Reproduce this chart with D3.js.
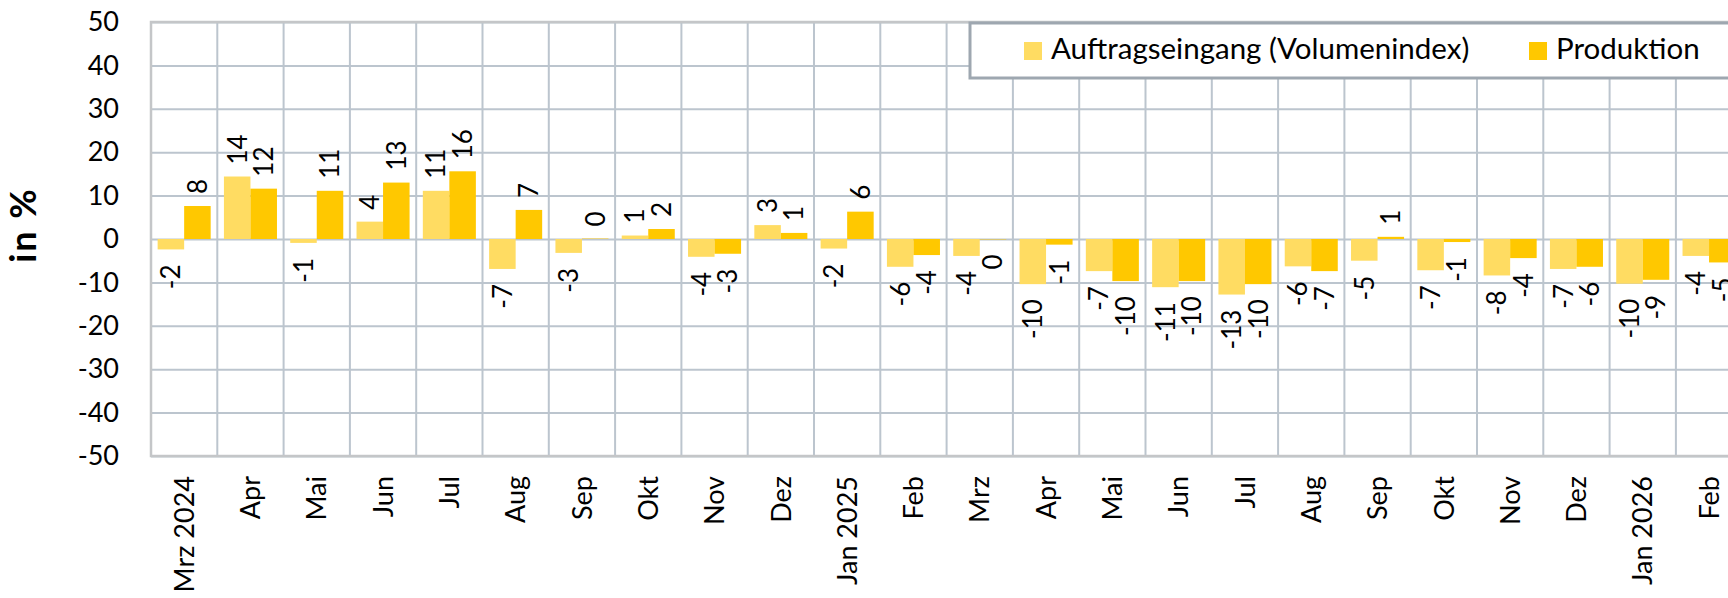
<!DOCTYPE html>
<html>
<head>
<meta charset="utf-8">
<script src="https://cdn.jsdelivr.net/npm/d3@7"></script>
<style>
  body { margin: 0; background: #fff; }
  svg { display: block; font-family: Lato, "Open Sans", sans-serif; }
</style>
</head>
<body>
<svg></svg>
<script>
// Monatswerte in %, Veränderung gegenüber Vorjahresmonat
const months = ["Mrz 2024", "Apr", "Mai", "Jun", "Jul", "Aug", "Sep", "Okt", "Nov", "Dez",
                "Jan 2025", "Feb", "Mrz", "Apr", "Mai", "Jun", "Jul", "Aug", "Sep", "Okt",
                "Nov", "Dez", "Jan 2026", "Feb"];
const auftrag = [-2.4, 14.4, -0.9, 4.0, 11.1, -6.9, -3.2, 0.8, -4.1, 3.2,
                 -2.2, -6.4, -3.9, -10.4, -7.4, -11.1, -12.8, -6.3, -5.0, -7.2,
                 -8.4, -6.9, -10.3, -3.9];
const produktion = [7.6, 11.6, 11.1, 13.0, 15.6, 6.7, 0.1, 2.3, -3.4, 1.4,
                    6.3, -3.7, -0.1, -1.3, -9.7, -9.7, -10.4, -7.4, 0.5, -0.7,
                    -4.4, -6.4, -9.4, -5.4];
const yTicks = [50, 40, 30, 20, 10, 0, -10, -20, -30, -40, -50];
const seriesNames = ["Auftragseingang (Volumenindex)", "Produktion"];
const seriesColors = ["#ffdc62", "#ffc800"];

const width = 1728;
const height = 598;
const plotLeft = 151, plotTop = 22, plotBottom = 456;
const step = 66.3;
const plotRight = plotLeft + step * months.length;

const svg = d3.select("svg")
              .attr("width", width)
              .attr("height", height);

const x = d3.scaleBand()
            .domain(d3.range(months.length))
            .range([plotLeft, plotRight])
            .paddingInner(0.2)
            .paddingOuter(0.1);

const xSub = d3.scaleBand()
               .domain([0, 1])
               .range([0, x.bandwidth()]);

const y = d3.scaleLinear()
            .domain([-50, 50])
            .range([plotBottom, plotTop]);

const gridColor = "#bcc5ce";

// horizontal grid + y labels
const yAxis = d3.axisLeft(y)
                .tickValues(yTicks)
                .tickSize(-(plotRight - plotLeft))
                .tickPadding(32)
                .tickFormat(d => String(d));

svg.append("g")
   .attr("transform", `translate(${plotLeft},0)`)
   .call(yAxis)
   .call(g => g.select(".domain").remove())
   .call(g => g.selectAll("line").attr("stroke", gridColor).attr("stroke-width", 2))
   .call(g => g.selectAll("text")
               .attr("font-family", "Lato")
               .attr("font-size", 27)
               .attr("fill", "#000"));

// vertical grid lines between months
svg.append("g")
   .selectAll("line")
   .data(d3.range(months.length + 1))
   .enter()
   .append("line")
     .attr("x1", i => plotLeft + i * step)
     .attr("x2", i => plotLeft + i * step)
     .attr("y1", plotTop)
     .attr("y2", plotBottom)
     .attr("stroke", gridColor)
     .attr("stroke-width", 2);

// plot frame
svg.append("rect")
   .attr("x", plotLeft)
   .attr("y", plotTop)
   .attr("width", plotRight - plotLeft)
   .attr("height", plotBottom - plotTop)
   .attr("fill", "none")
   .attr("stroke", "#c4c6c8")
   .attr("stroke-width", 2.5);

// bars
const series = [auftrag, produktion];
series.forEach((values, s) => {
  svg.append("g")
     .selectAll("rect")
     .data(values)
     .enter()
     .append("rect")
       .attr("x", (d, i) => x(i) + xSub(s))
       .attr("width", xSub.bandwidth())
       .attr("y", d => y(Math.max(0, d)))
       .attr("height", d => Math.abs(y(d) - y(0)))
       .attr("fill", seriesColors[s]);
});

// data labels
series.forEach((values, s) => {
  svg.append("g")
     .selectAll("text")
     .data(values)
     .enter()
     .append("text")
       .attr("transform", (d, i) => {
         const cx = x(i) + xSub(s) + xSub.bandwidth() / 2;
         const cy = d >= 0 ? y(d) - 12 : y(d) + 15;
         return `translate(${cx},${cy}) rotate(-90)`;
       })
       .attr("text-anchor", d => d >= 0 ? "start" : "end")
       .attr("dy", "0.36em")
       .attr("font-size", 26)
       .attr("fill", "#000")
       .text(d => String(Math.round(d)));
});

// x labels
svg.append("g")
   .selectAll("text")
   .data(months)
   .enter()
   .append("text")
     .attr("transform", (d, i) => `translate(${x(i) + x.bandwidth() / 2},476) rotate(-90)`)
     .attr("text-anchor", "end")
     .attr("dy", "0.36em")
     .attr("font-size", 27)
     .attr("fill", "#000")
     .text(d => d);

// y title
svg.append("text")
   .attr("transform", "translate(36,225) rotate(-90)")
   .attr("text-anchor", "middle")
   .attr("font-size", 36)
   .attr("letter-spacing", 2)
   .attr("font-weight", "bold")
   .text("in %");

// legend
const legend = svg.append("g");
legend.append("rect")
      .attr("x", 970)
      .attr("y", 23)
      .attr("width", 800)
      .attr("height", 55)
      .attr("fill", "#fff")
      .attr("stroke", "#9ea7b0")
      .attr("stroke-width", 3);

const legendPos = [[1024, 1051], [1529, 1556]];
seriesNames.forEach((name, s) => {
  legend.append("rect")
        .attr("x", legendPos[s][0])
        .attr("y", 42)
        .attr("width", 18)
        .attr("height", 18)
        .attr("fill", seriesColors[s]);
  legend.append("text")
        .attr("x", legendPos[s][1])
        .attr("y", 58.5)
        .attr("font-size", 29.5)
        .attr("fill", "#000")
        .text(name);
});
</script>
</body>
</html>
